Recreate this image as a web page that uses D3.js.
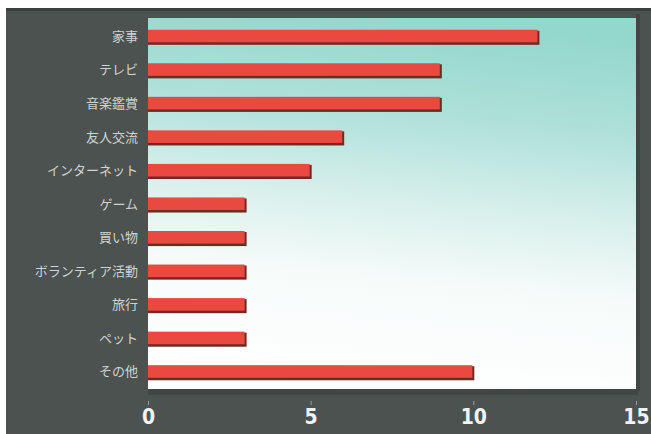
<!DOCTYPE html>
<html>
<head>
<meta charset="utf-8">
<script src="https://cdn.jsdelivr.net/npm/d3@7"></script>
<style>
  html, body { margin: 0; padding: 0; background: #ffffff; }
  svg { display: block; }
</style>
</head>
<body>
<svg id="chart" width="651" height="434"></svg>
<script>
// Activity categories, top to bottom
const categories = ["家事", "テレビ", "音楽鑑賞", "友人交流", "インターネット", "ゲーム", "買い物", "ボランティア活動", "旅行", "ペット", "その他"];
// Counts per category
const values = [12, 9, 9, 6, 5, 3, 3, 3, 3, 3, 10];
// Axis tick values
const tickValues = [0, 5, 10, 15];

const W = 651, H = 434;
const plot = { left: 148, right: 636, top: 20, bottom: 389 };

const svg = d3.select("#chart");

// Dark frame with a thin white margin on the top and left
svg.append("rect").attr("x", 0).attr("y", 0).attr("width", W).attr("height", H).attr("fill", "#ffffff");
svg.append("rect").attr("x", 6).attr("y", 8).attr("width", W - 6).attr("height", H - 8).attr("fill", "#4b524f");
svg.append("rect").attr("x", 6).attr("y", 8).attr("width", W - 6).attr("height", 3).attr("fill", "#3a403e");

// Plot background gradient: teal at the top fading to white at the bottom
const defs = svg.append("defs");
const grad = defs.append("linearGradient").attr("id", "bg")
  .attr("x1", "0.55").attr("y1", "0").attr("x2", "0.42").attr("y2", "1");
[[0, "#93d7cd"], [0.25, "#aee0d9"], [0.5, "#d9f0ec"], [0.7, "#f6fbfa"], [1, "#ffffff"]]
  .forEach(([o, c]) => grad.append("stop").attr("offset", o).attr("stop-color", c));

const x = d3.scaleLinear().domain([0, 15]).range([plot.left, plot.right]);
const y = d3.scaleBand().domain(categories).range([plot.top, plot.bottom]).paddingInner(0.58).paddingOuter(0.29);

svg.append("rect")
  .attr("x", plot.left).attr("y", plot.top - 2)
  .attr("width", plot.right - plot.left).attr("height", plot.bottom - plot.top + 2)
  .attr("fill", "url(#bg)");

// Shadowed floor under the plot
svg.append("rect")
  .attr("x", plot.left).attr("y", plot.bottom)
  .attr("width", plot.right - plot.left + 2).attr("height", 6)
  .attr("fill", "#3f4644");
svg.append("rect")
  .attr("x", plot.right).attr("y", plot.top - 6)
  .attr("width", 4).attr("height", plot.bottom - plot.top + 8)
  .attr("fill", "#3f4644");

// Bars: dark edge underneath, red face on top
const bars = svg.append("g");
bars.selectAll("rect.edge")
  .data(values)
  .join("rect")
  .attr("class", "edge")
  .attr("x", x(0))
  .attr("y", (d, i) => y(categories[i]) + 1)
  .attr("width", d => x(d) - x(0) + 1)
  .attr("height", y.bandwidth())
  .attr("fill", "#6e2b25");
bars.selectAll("rect.face")
  .data(values)
  .join("rect")
  .attr("class", "face")
  .attr("x", x(0))
  .attr("y", (d, i) => y(categories[i]))
  .attr("width", d => x(d) - x(0) - 1)
  .attr("height", y.bandwidth() - 1.5)
  .attr("fill", "#e9493e");

// Category labels
const yAxis = d3.axisLeft(y).tickSize(0).tickPadding(10);
const gy = svg.append("g").attr("transform", `translate(${plot.left},0)`).call(yAxis);
gy.select(".domain").remove();
gy.selectAll("text")
  .attr("fill", "#cfd3d1")
  .attr("font-size", 13)
  .attr("font-family", "'Noto Sans CJK JP', sans-serif");

// Value axis along the bottom
const xAxis = d3.axisBottom(x).tickValues(tickValues).tickSize(4).tickPadding(4);
const gx = svg.append("g").attr("transform", `translate(0,${plot.bottom + 12})`).call(xAxis);
gx.select(".domain").remove();
gx.selectAll("line").attr("stroke", "#9aa09e");
gx.selectAll("text")
  .attr("fill", "#f2f2f2")
  .attr("font-size", 21)
  .attr("font-weight", "bold")
  .attr("font-family", "'DejaVu Sans Condensed', 'DejaVu Sans', sans-serif");
</script>
</body>
</html>
